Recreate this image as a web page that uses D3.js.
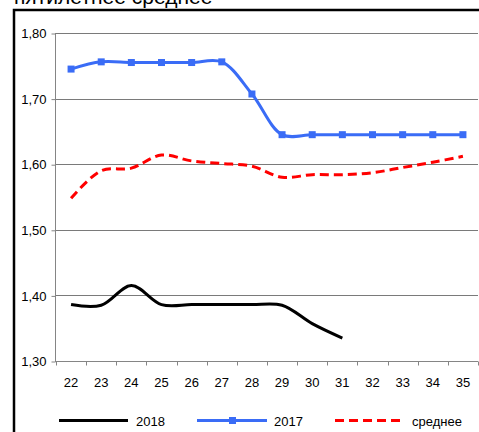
<!DOCTYPE html>
<html><head><meta charset="utf-8">
<script src="https://cdn.jsdelivr.net/npm/d3@7"></script>
<style>body{margin:0;background:#fff;} svg{display:block;font-family:"Liberation Sans",Arial,sans-serif;}</style>
</head><body>
<script>
const categories = ["22","23","24","25","26","27","28","29","30","31","32","33","34","35"];
const s2018 = [1.386,1.385,1.415,1.386,1.386,1.386,1.386,1.385,1.357,1.335];
const s2017 = [1.745,1.756,1.755,1.755,1.755,1.756,1.707,1.645,1.645,1.645,1.645,1.645,1.645,1.645];
const sAvg = [1.548,1.590,1.594,1.614,1.605,1.601,1.597,1.580,1.584,1.584,1.587,1.595,1.603,1.612];
const yTicks = [1.30,1.40,1.50,1.60,1.70,1.80];
const title = "пятилетнее среднее";

const W = 479, H = 432;
const svg = d3.select("body").append("svg").attr("width", W).attr("height", H);

svg.append("text").attr("x", 14).attr("y", 4).attr("font-size", 21).attr("fill", "#000").text(title);
svg.append("rect").attr("x", 14).attr("y", 10).attr("width", 480).attr("height", 440)
  .attr("fill", "none").attr("stroke", "#000").attr("stroke-width", 2.5);

const x = d3.scaleBand().domain(categories).range([56, 478]);
const y = d3.scaleLinear().domain([1.30, 1.80]).range([361, 33]);

// gridlines
svg.append("g").selectAll("line").data(yTicks.slice(1)).join("line")
  .attr("x1", 55).attr("x2", 478).attr("y1", d => Math.round(y(d)) + 0.5).attr("y2", d => Math.round(y(d)) + 0.5)
  .attr("stroke", "#7a7a7a").attr("stroke-width", 1);

const fmt = d => d3.format(".2f")(d).replace(".", ",");
const yAxis = svg.append("g").attr("transform", "translate(55.5,0.5)")
  .call(d3.axisLeft(y).tickValues(yTicks).tickFormat(fmt).tickSize(4).tickPadding(5));
yAxis.select(".domain").attr("stroke", "#858585").attr("d", `M0,${Math.round(y(1.80))}V${Math.round(y(1.30))}`);
yAxis.selectAll(".tick line").attr("stroke", "#858585");
yAxis.selectAll("text").attr("font-size", 13).attr("fill", "#000").attr("font-family", "Liberation Sans, Arial");

const xAxis = svg.append("g").attr("transform", `translate(0,${Math.round(y(1.30)) + 0.5})`);
xAxis.append("line").attr("x1", 55).attr("x2", 478).attr("stroke", "#858585");
const bounds = categories.map((c, i) => x(c)).concat([x.range()[1]]);
xAxis.selectAll("line.t").data(bounds).join("line").attr("class", "t")
  .attr("x1", d => Math.round(d) + 0.5).attr("x2", d => Math.round(d) + 0.5).attr("y1", 0).attr("y2", 4)
  .attr("stroke", "#858585");
xAxis.selectAll("text").data(categories).join("text")
  .attr("x", d => x(d) + x.bandwidth() / 2).attr("y", 25)
  .attr("text-anchor", "middle").attr("font-size", 13).attr("fill", "#000").text(d => d);

const cx = (d, i) => x(categories[i]) + x.bandwidth() / 2;
const line = d3.line().x(cx).y(d => y(d)).curve(d3.curveCatmullRom.alpha(0.5));

svg.append("path").datum(sAvg).attr("d", line).attr("fill", "none")
  .attr("stroke", "#ff0000").attr("stroke-width", 3).attr("stroke-dasharray", "9,5");
svg.append("path").datum(s2017).attr("d", line).attr("fill", "none")
  .attr("stroke", "#3a6cf6").attr("stroke-width", 3);
svg.append("g").selectAll("rect").data(s2017).join("rect")
  .attr("x", (d, i) => cx(d, i) - 3.5).attr("y", d => y(d) - 3.5).attr("width", 7).attr("height", 7)
  .attr("fill", "#3a6cf6");
svg.append("path").datum(s2018).attr("d", line).attr("fill", "none")
  .attr("stroke", "#000").attr("stroke-width", 3);

// legend
const ly = 420.5;
const lg = svg.append("g");
lg.append("line").attr("x1", 59).attr("x2", 128).attr("y1", ly).attr("y2", ly).attr("stroke", "#000").attr("stroke-width", 3);
lg.append("text").attr("x", 136).attr("y", ly + 5).attr("font-size", 13).text("2018");
lg.append("line").attr("x1", 197).attr("x2", 267).attr("y1", ly).attr("y2", ly).attr("stroke", "#3a6cf6").attr("stroke-width", 3);
lg.append("rect").attr("x", 229).attr("y", ly - 3.5).attr("width", 7).attr("height", 7).attr("fill", "#3a6cf6");
lg.append("text").attr("x", 274).attr("y", ly + 5).attr("font-size", 13).text("2017");
lg.append("line").attr("x1", 335).attr("x2", 401).attr("y1", ly).attr("y2", ly).attr("stroke", "#ff0000").attr("stroke-width", 3).attr("stroke-dasharray", "9,5");
lg.append("text").attr("x", 412).attr("y", ly + 5).attr("font-size", 13).text("среднее");
</script>
</body></html>
